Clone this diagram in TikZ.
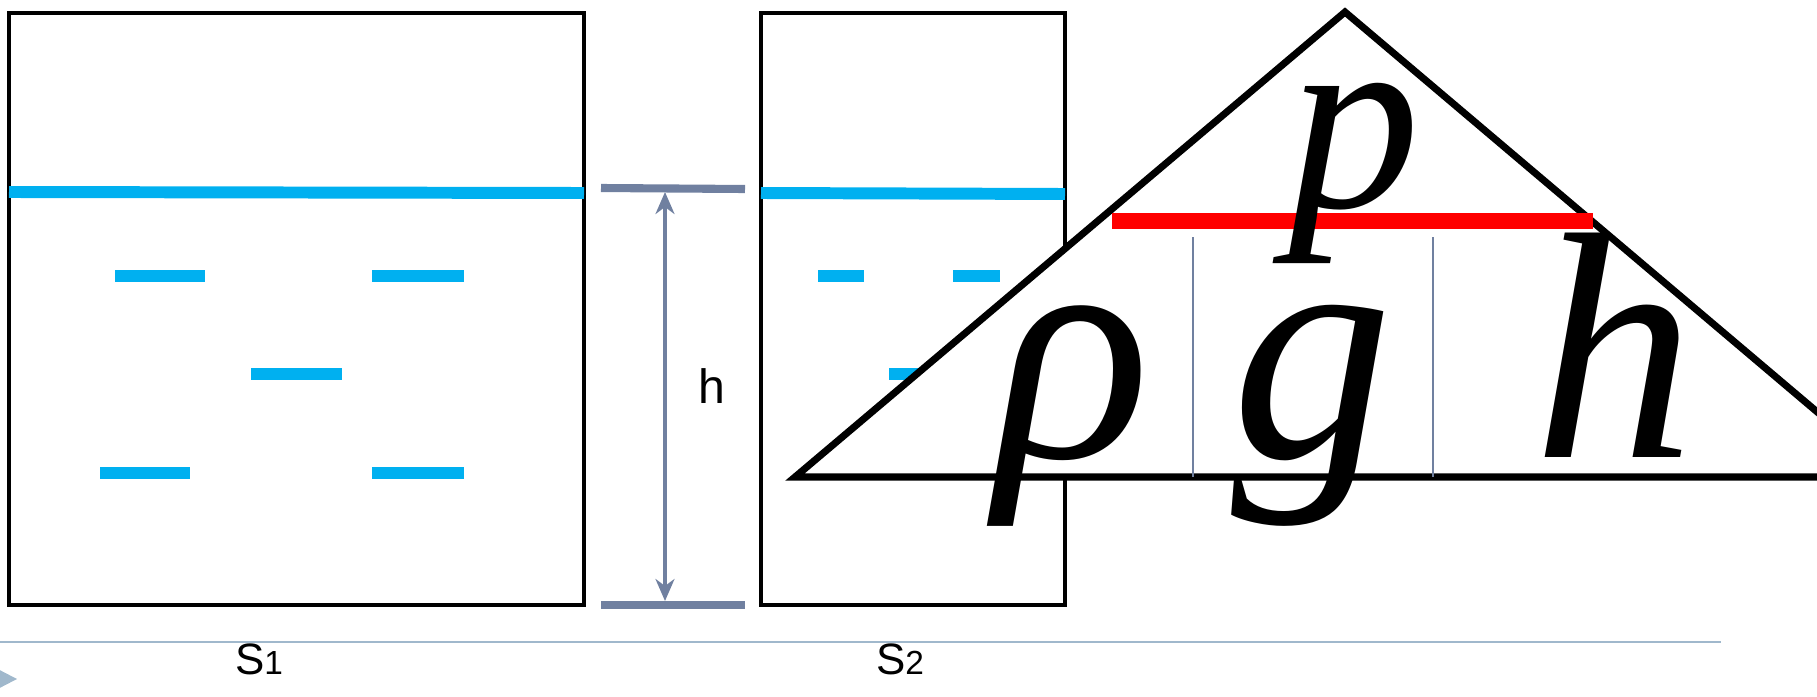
\documentclass[tikz,border=0pt]{standalone}
\usepackage{fontspec}
\setmainfont{Liberation Serif}
\newfontfamily\arialfont{Liberation Sans}
\usetikzlibrary{arrows.meta}
\definecolor{waterBlue}{RGB}{0,176,240}
\definecolor{dimGray}{RGB}{112,128,160}
\definecolor{ruleBlue}{RGB}{160,184,204}
\begin{document}
\begin{tikzpicture}[x=0.01cm,y=-0.01cm,
    vesselStyle/.style={draw=black,line width=1.15pt},
    waterLine/.style={draw=waterBlue,line width=3.4pt},
    dimBar/.style={draw=dimGray,line width=2.3pt},
    dimArrow/.style={draw=dimGray,line width=0.9pt,
        {Stealth[length=2.2mm,width=1.9mm,inset=0.7mm]}-{Stealth[length=2.2mm,width=1.9mm,inset=0.7mm]}},
    labelText/.style={inner sep=0pt,font=\arialfont\fontsize{12.5}{14}\selectfont},
    bigLetter/.style={inner sep=0pt,anchor=base,font=\itshape\fontsize{92}{92}\selectfont},
]
\clip (0,0) rectangle (1817,697);
% Vessels
\draw[vesselStyle] (9,13) rectangle (584,605);
\draw[vesselStyle] (761,13) rectangle (1065,605);
% Water surface and dashes
\draw[waterLine] (9,192) -- (584,193);
\draw[waterLine] (761,193) -- (1065,194);
\foreach \xa/\xb/\yy in {115/205/276, 372/464/276, 251/342/374, 100/190/473, 372/464/473,
                         818/864/276, 953/1000/276, 889/937/374}
    \draw[waterLine] (\xa,\yy) -- (\xb,\yy);
% Height dimension
\draw[dimBar] (601,188) -- (745,189);
\draw[dimBar] (601,605) -- (745,605);
\coordinate (hTop) at (665,192);
\coordinate (hBot) at (665,601);
\draw[dimArrow] (hTop) -- (hBot);
\node[labelText,font=\arialfont\fontsize{13.7}{15}\selectfont] (hLabel) at (712,386) {h};
% Formula triangle
\draw[line width=2pt,fill=white,line join=miter] (795,477) -- (1345,12) -- (1894,477) -- cycle;
\draw[red,line width=4.5pt] (1112,221) -- (1593,221);
\draw[dimGray,line width=0.6pt] (1193,237) -- (1193,477);
\draw[dimGray,line width=0.6pt] (1433,237) -- (1433,477);
\node[bigLetter,font=\itshape\fontsize{75}{75}\selectfont] (pLetter) at (1354,207) {p};
\node[bigLetter] (rhoLetter) at (1073,457) {ρ};
\node[bigLetter] (gLetter) at (1312,457) {g};
\node[bigLetter] (hLetter) at (1614,457) {h};
% Labels and rule
\draw[ruleBlue,line width=0.6pt] (0,642) -- (1721,642);
\fill[ruleBlue] (-12,664) -- (17,679) -- (-12,694) -- cycle;
\node[labelText] (s1Label) at (259,659) {S{\fontsize{9.5}{10}\selectfont 1}};
\node[labelText] (s2Label) at (900,659) {S{\fontsize{9.5}{10}\selectfont 2}};
\end{tikzpicture}
\end{document}
